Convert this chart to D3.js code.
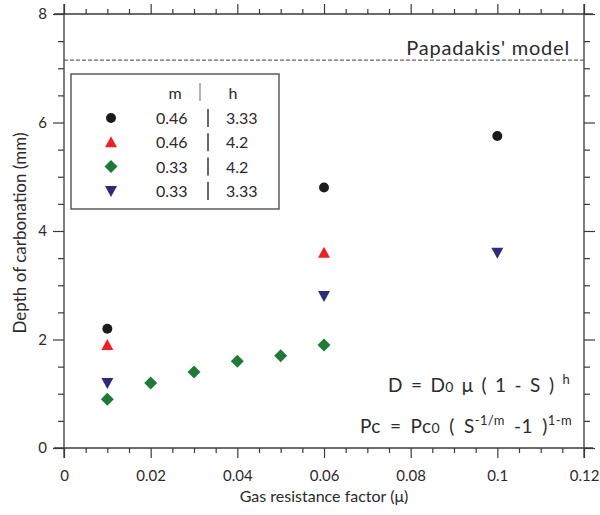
<!DOCTYPE html>
<html>
<head>
<meta charset="utf-8">
<script src="https://cdn.jsdelivr.net/npm/d3@7"></script>
<style>
  body { margin: 0; background: #fff; }
  svg text { font-family: Lato, "Open Sans", sans-serif; fill: #2b2b2b; }
</style>
</head>
<body>
<svg width="600" height="515"></svg>
<script>
// data
var xMajor = [0, 0.02, 0.04, 0.06, 0.08, 0.1, 0.12];
var yMajor = [0, 2, 4, 6, 8];
var modelDepth = 7.15;

var seriesM = ["0.46", "0.46", "0.33", "0.33"];
var seriesH = ["3.33", "4.2", "4.2", "3.33"];
var seriesColors = ["#1b1b1b", "#ec2027", "#1f7a3a", "#2b2c7c"];
var seriesShapes = ["circle", "up", "diamond", "down"];

var blackX = [0.01, 0.06, 0.1];
var blackY = [2.2, 4.8, 5.75];
var redX = [0.01, 0.06];
var redY = [1.9, 3.6];
var greenX = [0.01, 0.02, 0.03, 0.04, 0.05, 0.06];
var greenY = [0.9, 1.2, 1.4, 1.6, 1.7, 1.9];
var blueX = [0.01, 0.06, 0.1];
var blueY = [1.2, 2.8, 3.6];

var seriesData = [[blackX, blackY], [redX, redY], [greenX, greenY], [blueX, blueY]];

var svg = d3.select("svg");
// plot box (don't call these top/left... window.top is read-only)
var pL = 64, pR = 584, pT = 14, pB = 448;

var x = d3.scaleLinear().domain([0, 0.12]).range([pL, pR]);
var y = d3.scaleLinear().domain([0, 8]).range([pB, pT]);

var xMinor = d3.range(0, 0.1201, 0.005).filter(function(v) { return Math.abs(v / 0.02 - Math.round(v / 0.02)) > 1e-6; });
var yMinor = d3.range(0, 8.01, 0.5).filter(function(v) { return v % 2 !== 0; });

var axisColor = "#3a3a3a";
function styleAxis(g) {
  g.select(".domain").remove();
  g.selectAll("line").attr("stroke", axisColor).attr("stroke-width", 1.2);
}

var fmt = function(d) { return String(+d.toFixed(2)); };

// bottom axis
svg.append("g").attr("transform", "translate(0," + pB + ")")
  .call(d3.axisBottom(x).tickValues(xMinor).tickSize(5).tickFormat(""))
  .call(styleAxis);
svg.append("g").attr("transform", "translate(0," + pB + ")")
  .call(d3.axisBottom(x).tickValues(xMajor).tickSize(10).tickPadding(12).tickFormat(fmt))
  .call(styleAxis)
  .selectAll("text").style("font-size", "15px").attr("fill", "#2b2b2b");

// top axis
svg.append("g").attr("transform", "translate(0," + pT + ")")
  .call(d3.axisTop(x).tickValues(xMinor).tickSize(5).tickFormat(""))
  .call(styleAxis);
svg.append("g").attr("transform", "translate(0," + pT + ")")
  .call(d3.axisTop(x).tickValues(xMajor).tickSize(10).tickFormat(""))
  .call(styleAxis);

// left axis
svg.append("g").attr("transform", "translate(" + pL + ",0)")
  .call(d3.axisLeft(y).tickValues(yMinor).tickSize(6).tickFormat(""))
  .call(styleAxis);
svg.append("g").attr("transform", "translate(" + pL + ",0)")
  .call(d3.axisLeft(y).tickValues(yMajor).tickSize(11).tickPadding(6).tickFormat(fmt))
  .call(styleAxis)
  .selectAll("text").style("font-size", "15px").attr("fill", "#2b2b2b");

// right axis
svg.append("g").attr("transform", "translate(" + pR + ",0)")
  .call(d3.axisRight(y).tickValues(yMinor).tickSize(6).tickFormat(""))
  .call(styleAxis);
svg.append("g").attr("transform", "translate(" + pR + ",0)")
  .call(d3.axisRight(y).tickValues(yMajor).tickSize(11).tickFormat(""))
  .call(styleAxis);

// frame lines, running a little past the corners
var frame = svg.append("g").attr("stroke", axisColor).attr("stroke-width", 1.3);
frame.append("line").attr("x1", pL - 10).attr("x2", pR + 9).attr("y1", pB).attr("y2", pB);
frame.append("line").attr("x1", pL - 10).attr("x2", pR + 9).attr("y1", pT).attr("y2", pT);
frame.append("line").attr("x1", pL).attr("x2", pL).attr("y1", pT - 10).attr("y2", pB + 10);
frame.append("line").attr("x1", pR).attr("x2", pR).attr("y1", pT - 10).attr("y2", pB + 10);

// Papadakis' model line
svg.append("line")
  .attr("x1", x(0)).attr("x2", x(0.12))
  .attr("y1", y(modelDepth)).attr("y2", y(modelDepth))
  .attr("stroke", "#444").attr("stroke-width", 1).attr("stroke-dasharray", "4,2");
svg.append("text").attr("x", 570).attr("y", y(modelDepth) - 5)
  .attr("text-anchor", "end").style("font-size", "20px").style("letter-spacing", "0.8px")
  .text("Papadakis' model");

// marker shapes
function markerPath(shape) {
  if (shape === "circle") return d3.symbol().type(d3.symbolCircle).size(78)();
  if (shape === "diamond") return "M0,-6.5L6.5,0L0,6.5L-6.5,0Z";
  if (shape === "up") return "M0,-6L6,5L-6,5Z";
  return "M0,6L6,-5L-6,-5Z";
}

seriesData.forEach(function(s, i) {
  svg.append("g").selectAll("path")
    .data(d3.range(s[0].length))
    .enter().append("path")
    .attr("transform", function(k) { return "translate(" + x(s[0][k]) + "," + y(s[1][k]) + ")"; })
    .attr("d", markerPath(seriesShapes[i]))
    .attr("fill", seriesColors[i]);
});

// legend
var lg = svg.append("g");
lg.append("rect").attr("x", 71).attr("y", 74).attr("width", 208).attr("height", 135)
  .attr("fill", "#fff").attr("stroke", "#444").attr("stroke-width", 1.3);
lg.append("text").attr("x", 175).attr("y", 99).attr("text-anchor", "middle").style("font-size", "16px").text("m");
lg.append("line").attr("x1", 200).attr("x2", 200).attr("y1", 83).attr("y2", 101).attr("stroke", "#999").attr("stroke-width", 1.5);
lg.append("text").attr("x", 233).attr("y", 99).attr("text-anchor", "middle").style("font-size", "16px").text("h");

seriesM.forEach(function(m, i) {
  var cy = 118 + i * 24.3;
  lg.append("path").attr("transform", "translate(111," + cy + ")")
    .attr("d", markerPath(seriesShapes[i])).attr("fill", seriesColors[i]);
  lg.append("text").attr("x", 156).attr("y", cy + 6).style("font-size", "16px").text(m);
  lg.append("line").attr("x1", 208).attr("x2", 208).attr("y1", cy - 9).attr("y2", cy + 9)
    .attr("stroke", "#333").attr("stroke-width", 1.5);
  lg.append("text").attr("x", 226).attr("y", cy + 6).style("font-size", "16px").text(seriesH[i]);
});

// equations
var eq1 = svg.append("text").attr("x", 570).attr("y", 392).attr("text-anchor", "end")
  .style("font-size", "19px").style("word-spacing", "3px").style("letter-spacing", "0.3px");
eq1.append("tspan").text("D = D");
eq1.append("tspan").style("font-size", "14px").text("0");
eq1.append("tspan").text(" μ ( 1 - S ) ");
eq1.append("tspan").attr("dy", -8).style("font-size", "13px").text("h");

var eq2 = svg.append("text").attr("x", 572).attr("y", 433).attr("text-anchor", "end")
  .style("font-size", "19px").style("word-spacing", "4px").style("letter-spacing", "0.4px");
eq2.append("tspan").text("Pc = Pc");
eq2.append("tspan").style("font-size", "14px").text("0");
eq2.append("tspan").text(" ( S");
eq2.append("tspan").attr("dy", -8).style("font-size", "13px").text("-1/m");
eq2.append("tspan").attr("dy", 8).text(" -1 )");
eq2.append("tspan").attr("dy", -8).style("font-size", "13px").text("1-m");

// axis titles
svg.append("text").attr("x", 324).attr("y", 502).attr("text-anchor", "middle")
  .style("font-size", "16px").text("Gas resistance factor (μ)");
svg.append("text").attr("transform", "translate(26,233) rotate(-90)").attr("text-anchor", "middle")
  .style("font-size", "17px").text("Depth of carbonation (mm)");
</script>
</body>
</html>
